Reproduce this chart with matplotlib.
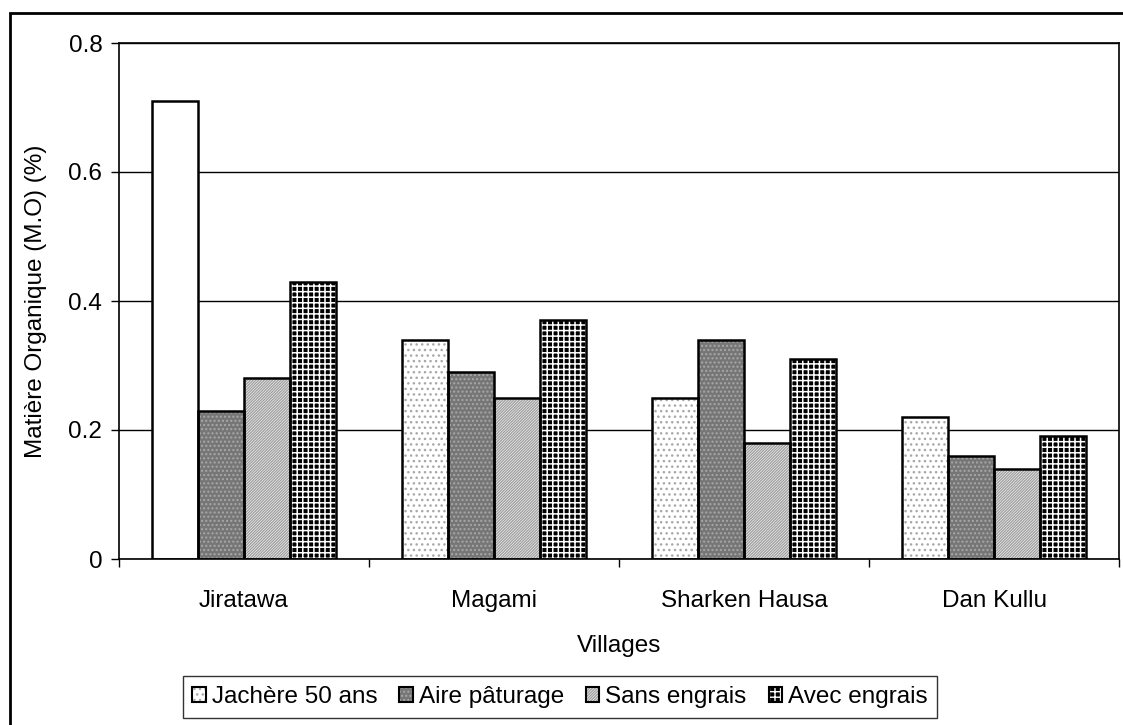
import matplotlib
matplotlib.use("Agg")
import matplotlib.pyplot as plt
import numpy as np
from matplotlib.patches import Patch, Rectangle
from matplotlib.legend_handler import HandlerTuple

plt.rcParams['font.family'] = ['Liberation Sans', 'DejaVu Sans']
plt.rcParams['hatch.linewidth'] = 1.0

villages = ["Jiratawa", "Magami", "Sharken Hausa", "Dan Kullu"]
series = ["Jachère 50 ans", "Aire pâturage", "Sans engrais", "Avec engrais"]
jachere = [0.71, 0.34, 0.25, 0.22]
aire_paturage = [0.23, 0.29, 0.34, 0.16]
sans_engrais = [0.28, 0.25, 0.18, 0.14]
avec_engrais = [0.43, 0.37, 0.31, 0.19]
y_ticks = [0, 0.2, 0.4, 0.6, 0.8]
y_tick_labels = ["0", "0.2", "0.4", "0.6", "0.8"]

values = [jachere, aire_paturage, sans_engrais, avec_engrais]
# fill colour, hatch pattern, hatch colour, hatch line width per series
styles = [
    ("white", "...", "#a8a8a8", 1.0),
    ("#767676", "....", "#a8a8a8", 1.0),
    ("white", "/" * 12, "#a0a0a0", 1.0),
    ("black", "+++", "white", 1.1),
]


def hatched_patch(fc, h, hc, hlw, **kw):
    with plt.rc_context({"hatch.linewidth": hlw}):
        p = Patch(facecolor=fc, edgecolor=hc, hatch=h, linewidth=0, **kw)
    if hasattr(p, "set_hatch_linewidth"):
        p.set_hatch_linewidth(hlw)
    return p


FS = 17.5
fig = plt.figure(figsize=(11.23, 7.25), dpi=100)
W, H = 1123, 725
ax = fig.add_axes([119 / W, 1 - 559 / H, 1000 / W, 516 / H])

x = np.arange(len(villages))
bw = 0.184
offsets = (np.arange(4) - 1.5) * bw

for i, (vals, (fc, hatch, hc, hlw)) in enumerate(zip(values, styles)):
    with plt.rc_context({"hatch.linewidth": hlw}):
        fill = ax.bar(x + offsets[i], vals, bw, color=fc, edgecolor=hc,
                      hatch=hatch, linewidth=0, zorder=2)
    for p in fill.patches:
        if hasattr(p, "set_hatch_linewidth"):
            p.set_hatch_linewidth(hlw)
    if i == 0:
        # the long-term fallow at Jiratawa is drawn plain white
        fill.patches[0].set_hatch(None)
    ax.bar(x + offsets[i], vals, bw, fill=False, edgecolor="black",
           linewidth=1.8, zorder=3)

ax.set_xlim(-0.5, len(villages) - 0.5)
ax.set_ylim(0, 0.8)
ax.set_yticks(y_ticks)
ax.set_yticklabels(y_tick_labels)
ax.yaxis.grid(True, color="black", linewidth=1.0, zorder=0)
ax.set_axisbelow(True)

ax.set_xticks(x)
ax.set_xticklabels(villages)
ax.set_xticks(np.arange(len(villages) + 1) - 0.5, minor=True)
ax.tick_params(axis="x", which="major", length=0, pad=22, labelsize=FS)
ax.tick_params(axis="x", which="minor", length=6, width=1, direction="out")
ax.tick_params(axis="y", length=6, width=1, direction="out", pad=6, labelsize=FS)

for s in ax.spines.values():
    s.set_color("black")
    s.set_linewidth(1.2)

ax.set_ylabel("Matière Organique (M.O) (%)", fontsize=FS)
ax.yaxis.set_label_coords(-0.072, 0.5)
ax.set_xlabel("Villages", fontsize=FS)
ax.xaxis.set_label_coords(0.5, -0.147)

# legend keys: hatched fill under a black outline
handles = [(hatched_patch(fc, h, hc, hlw),
            Patch(fill=False, edgecolor="black", linewidth=1.5))
           for fc, h, hc, hlw in styles]
leg = fig.legend(handles, series, loc="center", ncol=4,
                 handler_map={tuple: HandlerTuple(ndivide=1, pad=0)},
                 bbox_to_anchor=(560 / W, 1 - 697 / H),
                 bbox_transform=fig.transFigure,
                 fontsize=FS, frameon=True, fancybox=False,
                 handlelength=0.55, handleheight=0.55, handletextpad=0.25,
                 columnspacing=0.9, borderpad=0.4, borderaxespad=0)
leg.get_frame().set_edgecolor("black")
leg.get_frame().set_linewidth(1.0)

# outer chart border
fig.patches.append(Rectangle((10 / W, -0.1), 1.2, 1 - 13 / H + 0.1,
                             transform=fig.transFigure, fill=False,
                             edgecolor="black", linewidth=2.0))

fig.savefig("out.png", dpi=100)
